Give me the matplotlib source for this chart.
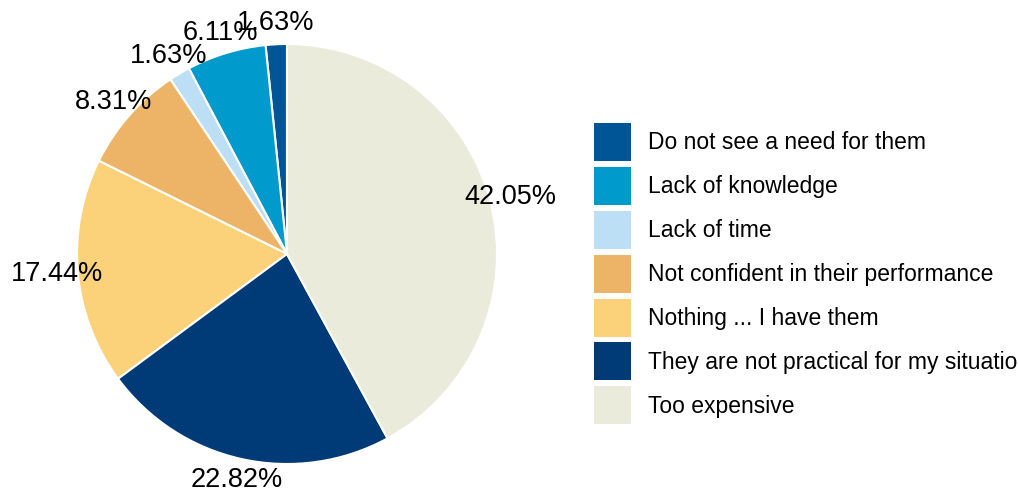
import matplotlib.pyplot as plt

# answers, in the order they are drawn (counter-clockwise from 12 o'clock)
reasons = ["Do not see a need for them",
           "Lack of knowledge",
           "Lack of time",
           "Not confident in their performance",
           "Nothing ... I have them",
           "They are not practical for my situation",
           "Too expensive"]
shares = [1.63, 6.11, 1.63, 8.31, 17.44, 22.82, 42.05]
colors = ["#005596", "#009acd", "#bddff5", "#edb468", "#fbd27a", "#003b78", "#ebebdb"]

plt.rcParams['font.family'] = ['Liberation Sans', 'DejaVu Sans']

fig = plt.figure(figsize=(10.18, 4.93), dpi=100)
W, H = 1018, 493

# pie centre and radius in pixels
cx, cy, r = 287, 254, 210
ax = fig.add_axes([(cx - r) / W, (H - cy - r) / H, 2 * r / W, 2 * r / H])

wedges, texts, pcts = ax.pie(shares, colors=colors, startangle=90, counterclock=True,
                             autopct='%1.2f%%', pctdistance=1.1,
                             wedgeprops=dict(edgecolor='white', linewidth=1.5),
                             textprops=dict(fontsize=19.5, color='black'))
ax.set_xlim(-1, 1)
ax.set_ylim(-1, 1)
ax.set_aspect('equal')

# square colour keys, long last label runs off the right edge
fs = 16.5
fig.legend(wedges, reasons, loc='upper left', bbox_to_anchor=(594 / W, 1 - 123 / H),
           frameon=False, fontsize=fs, borderpad=0, borderaxespad=0,
           handlelength=1.62, handleheight=2.17, handletextpad=0.72,
           labelspacing=0.26)
for p in fig.legends[0].get_patches():
    p.set_edgecolor('none')

fig.savefig("out.png", dpi=100)
